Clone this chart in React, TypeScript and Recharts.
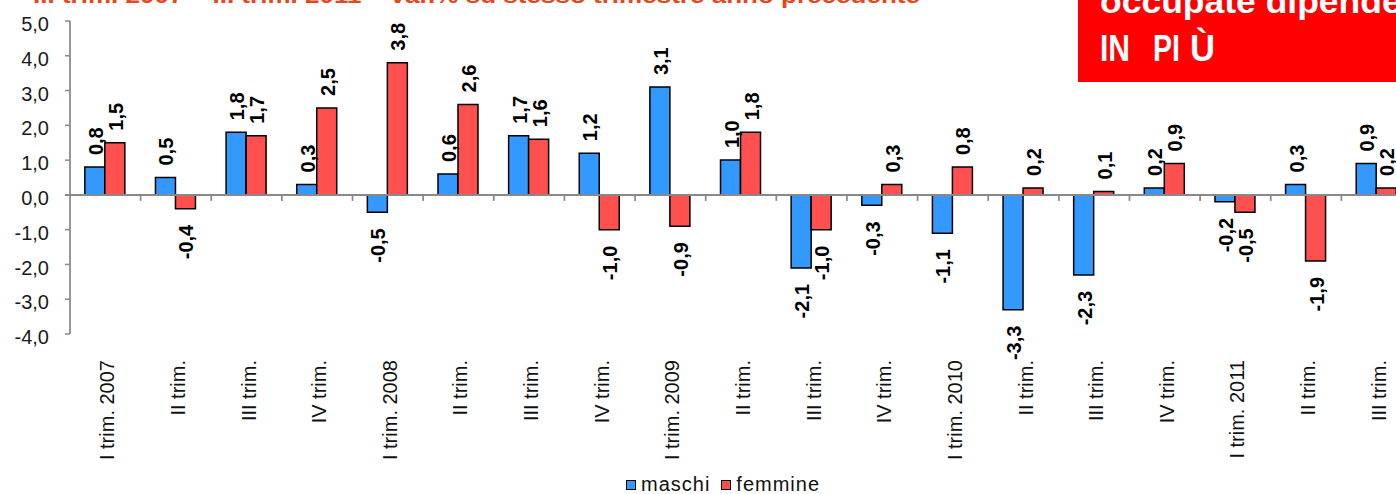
import React from 'react';
import { BarChart, Bar, XAxis, YAxis, ReferenceLine, Legend, LabelList } from 'recharts';

const categories = [
  'I trim. 2007', 'II trim.', 'III trim.', 'IV trim.',
  'I trim. 2008', 'II trim.', 'III trim.', 'IV trim.',
  'I trim. 2009', 'II trim.', 'III trim.', 'IV trim.',
  'I trim. 2010', 'II trim.', 'III trim.', 'IV trim.',
  'I trim. 2011', 'II trim.', 'III trim.',
];
const maschi = [0.8, 0.5, 1.8, 0.3, -0.5, 0.6, 1.7, 1.2, 3.1, 1.0, -2.1, -0.3, -1.1, -3.3, -2.3, 0.2, -0.2, 0.3, 0.9];
const femmine = [1.5, -0.4, 1.7, 2.5, 3.8, 2.6, 1.6, -1.0, -0.9, 1.8, -1.0, 0.3, 0.8, 0.2, 0.1, 0.9, -0.5, -1.9, 0.2];
const yTicks = [-4, -3, -2, -1, 0, 1, 2, 3, 4, 5];
const seriesNames = ['maschi', 'femmine'];
const titleText = 'III trim. 2007 – III trim. 2011 – var.% su stesso trimestre anno precedente';
const boxLine1 = 'occupate dipendenti';
const boxWords = ['IN', 'PI', 'Ù'];

const data = categories.map((c, i) => ({ cat: c, maschi: maschi[i], femmine: femmine[i] }));

const FONT = '"Liberation Sans", Arial, sans-serif';
const BLUE = '#3399FF';
const RED = '#FF5050';
const AXIS = '#898989';

const fmt = (v: number) => v.toFixed(1).replace('.', ',');

const XTick = (props: any) => {
  const { x, y, payload } = props;
  return (
    <text
      transform={`translate(${x + 9},${y + 26}) rotate(-90)`}
      textAnchor="end"
      fontFamily={FONT}
      fontSize={20}
      fill="#111"
    >
      {payload.value}
    </text>
  );
};

const YTick = (props: any) => {
  const { x, y, payload } = props;
  return (
    <text x={x} y={y + 3} dy="0.355em" textAnchor="end" fontFamily={FONT} fontSize={20} fill="#1a1a1a">
      {fmt(payload.value)}
    </text>
  );
};

const BarLabel = (props: any) => {
  const { x, y, width, height, value } = props;
  const cx = Number(x) + Number(width) / 2 + 1;
  const top = Math.min(Number(y), Number(y) + Number(height));
  const bottom = Math.max(Number(y), Number(y) + Number(height));
  const pos = Number(value) >= 0;
  const ay = pos ? top - 12 : bottom + 16;
  return (
    <text
      transform={`translate(${cx},${ay}) rotate(-90)`}
      textAnchor={pos ? 'start' : 'end'}
      dominantBaseline="central"
      fontFamily={FONT}
      fontSize={20}
      fontWeight="bold"
      fill="#000"
    >
      {fmt(Number(value))}
    </text>
  );
};

const ZeroLine = (props: any) => {
  const { x1, y1, x2, y2 } = props;
  const n = categories.length;
  const step = (x2 - x1) / n;
  const ticks = [];
  for (let k = 1; k <= n; k++) {
    const tx = x1 + k * step;
    ticks.push(<line key={k} x1={tx} y1={y1} x2={tx} y2={y1 + 6} stroke={AXIS} strokeWidth={1.75} />);
  }
  return (
    <g>
      <line x1={x1 - 5} y1={y1} x2={x2} y2={y2} stroke={AXIS} strokeWidth={2} />
      {ticks}
    </g>
  );
};

const renderLegend = (props: any) => {
  const payload = [...(props.payload || [])].sort(
    (a: any, b: any) => seriesNames.indexOf(a.value) - seriesNames.indexOf(b.value)
  );
  return (
    <div
      style={{
        display: 'flex',
        alignItems: 'center',
        height: 23,
        fontFamily: FONT,
        fontSize: 20,
        letterSpacing: 1,
        color: '#111',
        whiteSpace: 'nowrap',
      }}
    >
      {payload.map((p: any, i: number) => (
        <span key={i} style={{ display: 'flex', alignItems: 'center', marginRight: 11 }}>
          <span
            style={{
              display: 'inline-block',
              width: 8,
              height: 8,
              background: p.color,
              border: '1.5px solid #000',
              marginRight: 5,
            }}
          />
          {p.value}
        </span>
      ))}
    </div>
  );
};

export default function App() {
  return (
    <div
      style={{
        position: 'fixed',
        left: 0,
        top: 0,
        width: 1396,
        height: 494,
        overflow: 'hidden',
        background: '#fff',
      }}
    >
      <BarChart
        width={1412}
        height={494}
        data={data}
        margin={{ top: 21, right: 0, bottom: 0, left: 0 }}
        barCategoryGap="21%"
        barGap={0}
      >
        <XAxis
          dataKey="cat"
          interval={0}
          tick={<XTick />}
          tickLine={false}
          axisLine={false}
          tickSize={0}
          tickMargin={0}
          height={137}
        />
        <YAxis
          width={70}
          domain={[-4, 5]}
          ticks={yTicks}
          interval={0}
          tick={<YTick />}
          tickSize={5}
          tickMargin={16}
          tickLine={{ stroke: AXIS, strokeWidth: 1.5 }}
          axisLine={{ stroke: AXIS, strokeWidth: 1.75 }}
          allowDataOverflow
        />
        <Legend
          verticalAlign="bottom"
          content={renderLegend}
          wrapperStyle={{ left: 626, top: 473, width: 240, height: 23, bottom: 'auto' }}
        />
        <Bar dataKey="maschi" name={seriesNames[0]} fill={BLUE} stroke="#000" strokeWidth={1.5} isAnimationActive={false}>
          <LabelList dataKey="maschi" content={<BarLabel />} />
        </Bar>
        <Bar dataKey="femmine" name={seriesNames[1]} fill={RED} stroke="#000" strokeWidth={1.5} isAnimationActive={false}>
          <LabelList dataKey="femmine" content={<BarLabel />} />
        </Bar>
        <ReferenceLine y={0} shape={<ZeroLine />} ifOverflow="visible" />
      </BarChart>
      <svg
        width={1396}
        height={494}
        style={{ position: 'absolute', left: 0, top: 0, pointerEvents: 'none', zIndex: 5 }}
      >
        <text
          x={33}
          y={3}
          fontFamily={FONT}
          fontSize={22}
          fontWeight="bold"
          fill="#E8461E"
          textLength={887}
          lengthAdjust="spacingAndGlyphs"
        >
          {titleText}
        </text>
        <rect x={1078} y={0} width={330} height={82} fill="#FF0000" />
        <text
          x={1100}
          y={13}
          fontFamily={FONT}
          fontSize={34}
          fontWeight="bold"
          fill="#fff"
          textLength={345}
          lengthAdjust="spacingAndGlyphs"
        >
          {boxLine1}
        </text>
        <text x={1100} y={61} fontFamily={FONT} fontSize={36} fontWeight="bold" fill="#fff" textLength={30} lengthAdjust="spacingAndGlyphs">
          {boxWords[0]}
        </text>
        <text x={1153} y={61} fontFamily={FONT} fontSize={36} fontWeight="bold" fill="#fff" textLength={27} lengthAdjust="spacingAndGlyphs">
          {boxWords[1]}
        </text>
        <text x={1190} y={61} fontFamily={FONT} fontSize={36} fontWeight="bold" fill="#fff" textLength={25} lengthAdjust="spacingAndGlyphs">
          {boxWords[2]}
        </text>
      </svg>
    </div>
  );
}
